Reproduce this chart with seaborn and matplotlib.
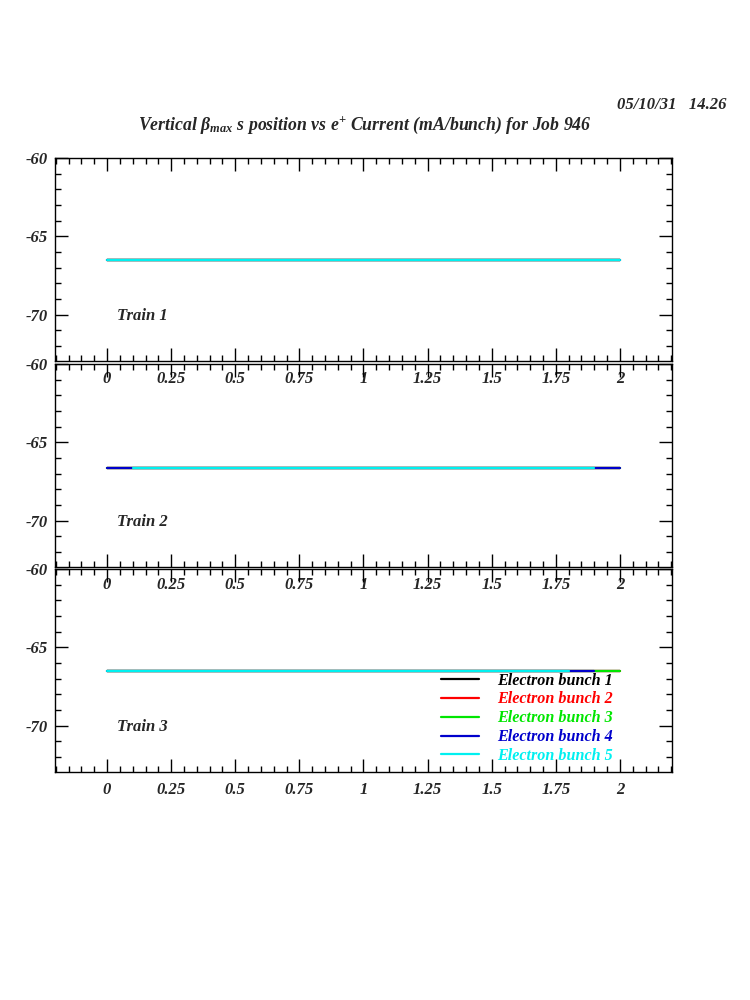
import matplotlib
matplotlib.use("Agg")
import matplotlib.pyplot as plt
from matplotlib.lines import Line2D
from matplotlib.ticker import MultipleLocator, FixedLocator
import seaborn as sns
import pandas as pd

# ---- Data ----
trains = ["Train 1", "Train 2", "Train 3"]
bunches = ["Electron bunch 1", "Electron bunch 2", "Electron bunch 3",
           "Electron bunch 4", "Electron bunch 5"]
colors = ["#000000", "#ff0000", "#00e600", "#0000cc", "#00f0f0"]

# per train, per bunch: x start/end (current, mA/bunch) and s position
train1_x = [[0.0, 2.0], [0.0, 2.0], [0.0, 2.0], [0.0, 2.0], [0.0, 2.0]]
train1_y = [-66.5, -66.5, -66.5, -66.5, -66.5]
train2_x = [[0.0, 2.0], [0.0, 2.0], [0.0, 2.0], [0.0, 2.0], [0.1, 1.9]]
train2_y = [-66.65, -66.65, -66.65, -66.65, -66.65]
train3_x = [[0.0, 2.0], [0.0, 2.0], [0.0, 2.0], [0.0, 1.9], [0.0, 1.8]]
train3_y = [-66.5, -66.5, -66.5, -66.5, -66.5]

x_ticks = [0, 0.25, 0.5, 0.75, 1, 1.25, 1.5, 1.75, 2]
x_labels = ["0", "0.25", "0.5", "0.75", "1", "1.25", "1.5", "1.75", "2"]
y_ticks = [-60, -65, -70]

rows = []
for t, xs, ys in zip(trains, [train1_x, train2_x, train3_x], [train1_y, train2_y, train3_y]):
    for b, xx, yy in zip(bunches, xs, ys):
        for xv in xx:
            rows.append({"train": t, "bunch": b, "current": xv, "spos": yy})
df = pd.DataFrame(rows)

# ---- Style ----
sns.set_style("ticks")
plt.rcParams["font.family"] = ["Liberation Serif", "DejaVu Serif"]
plt.rcParams["font.style"] = "italic"
plt.rcParams["font.weight"] = "bold"
plt.rcParams["mathtext.fontset"] = "custom"
plt.rcParams["mathtext.it"] = "Liberation Serif:italic:bold"
plt.rcParams["mathtext.rm"] = "Liberation Serif:italic:bold"

font = {"family": "Liberation Serif", "style": "italic", "weight": "bold"}

fig = plt.figure(figsize=(7.5, 10), dpi=100)
fig.patch.set_facecolor("white")

left, width, height = 0.0733, 0.8227, 0.203
bottoms = [0.639, 0.433, 0.228]
axes = []
for i, t in enumerate(trains):
    ax = fig.add_axes([left, bottoms[i], width, height])
    ax.patch.set_alpha(0)
    axes.append(ax)
    sub = df[df["train"] == t]
    sns.lineplot(data=sub, x="current", y="spos", hue="bunch", hue_order=bunches,
                 palette=colors, estimator=None, sort=False, linewidth=1.6,
                 legend=False, ax=ax)
    ax.set_xlim(-0.203, 2.203)
    ax.set_ylim(-72.95, -60)
    ax.xaxis.set_major_locator(FixedLocator(x_ticks))
    ax.set_xticklabels(x_labels, **font, fontsize=12)
    ax.xaxis.set_minor_locator(MultipleLocator(0.05))
    ax.yaxis.set_major_locator(FixedLocator(y_ticks))
    ax.set_yticklabels([str(v) for v in y_ticks], **font, fontsize=12)
    ax.yaxis.set_minor_locator(MultipleLocator(1))
    ax.tick_params(which="both", direction="in", top=True, right=True,
                   color="black", width=1.0)
    ax.tick_params(which="major", length=9.5)
    ax.tick_params(which="minor", length=4.0)
    ax.tick_params(axis="x", pad=7)
    ax.tick_params(axis="y", pad=5)
    for s in ax.spines.values():
        s.set_color("black")
        s.set_linewidth(1.0)
    ax.set_xlabel("")
    ax.set_ylabel("")
    ax.text(0.1, 0.22, t, transform=ax.transAxes, fontsize=12, ha="left",
            va="center", **font)

# legend in bottom panel
handles = [Line2D([], [], color=c, linewidth=1.6) for c in colors]
leg = axes[2].legend(handles, bunches, loc="upper left", bbox_to_anchor=(0.626, 0.49),
                     frameon=False, borderpad=0, borderaxespad=0, handlelength=2.35,
                     handletextpad=1.1, labelspacing=0.18, labelcolor=colors,
                     prop={"family": "Liberation Serif", "style": "italic",
                           "weight": "bold", "size": 11.6})

fig.text(0.486, 0.875, r"Vertical β$_{max}$ s position vs e$^{+}$ Current (mA/bunch) for Job 946",
         ha="center", va="center", fontsize=12.8, **font)
fig.text(0.969, 0.895, "05/10/31   14.26", ha="right", va="center", fontsize=12, **font)

fig.savefig("out.png", dpi=100, facecolor="white")
plt.close(fig)
